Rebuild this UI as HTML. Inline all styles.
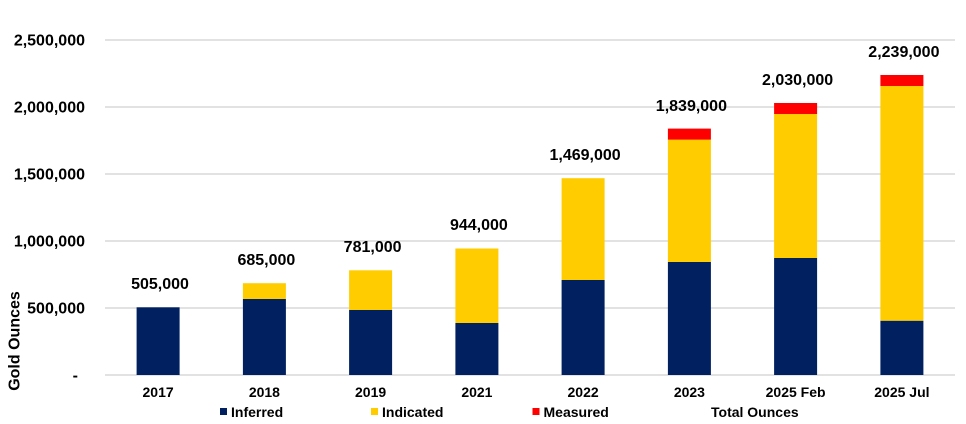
<!DOCTYPE html>
<html><head><meta charset="utf-8"><style>
html,body{margin:0;padding:0;background:#fff;}
svg{display:block;}
text{font-family:"Liberation Sans",Arial,sans-serif;font-weight:bold;fill:#000;}
</style></head><body>
<svg width="966" height="424" viewBox="0 0 966 424" xmlns="http://www.w3.org/2000/svg">
<g stroke="#d9d9d9" stroke-width="1.5">
<line x1="105" x2="955" y1="40" y2="40"/>
<line x1="105" x2="955" y1="107" y2="107"/>
<line x1="105" x2="955" y1="174" y2="174"/>
<line x1="105" x2="955" y1="241" y2="241"/>
<line x1="105" x2="955" y1="308" y2="308"/>
<line x1="105" x2="955" y1="375" y2="375"/>
</g>
<g font-size="16" text-anchor="end">
<text x="85" y="45.7">2,500,000</text>
<text x="85" y="112.7">2,000,000</text>
<text x="85" y="179.7">1,500,000</text>
<text x="85" y="246.7">1,000,000</text>
<text x="85" y="313.7">500,000</text>
<text x="78" y="380.7">-</text>
</g>
<text font-size="16" text-anchor="middle" transform="translate(19.5,341) rotate(-90)">Gold Ounces</text>
<g id="bars"></g>
<!-- bars: y = 375 - v*0.134 (v in thousands) -->
<!-- 2017 -->
<rect x="136.6" y="307.3" width="43" height="67.7" fill="#002060"/>
<!-- 2018 -->
<rect x="242.9" y="299.0" width="43" height="76.0" fill="#002060"/>
<rect x="242.9" y="283.2" width="43" height="15.8" fill="#FFCC00"/>
<!-- 2019 -->
<rect x="349.1" y="310.0" width="43" height="65.0" fill="#002060"/>
<rect x="349.1" y="270.3" width="43" height="39.7" fill="#FFCC00"/>
<!-- 2021 -->
<rect x="455.4" y="323.0" width="43" height="52.0" fill="#002060"/>
<rect x="455.4" y="248.5" width="43" height="74.5" fill="#FFCC00"/>
<!-- 2022 -->
<rect x="561.6" y="280.0" width="43" height="95.0" fill="#002060"/>
<rect x="561.6" y="178.2" width="43" height="101.8" fill="#FFCC00"/>
<!-- 2023 -->
<rect x="667.9" y="262.0" width="43" height="113.0" fill="#002060"/>
<rect x="667.9" y="139.5" width="43" height="122.5" fill="#FFCC00"/>
<rect x="667.9" y="128.6" width="43" height="11.0" fill="#FF0000"/>
<!-- 2025 Feb -->
<rect x="774.1" y="258.0" width="43" height="117.0" fill="#002060"/>
<rect x="774.1" y="114.0" width="43" height="144.0" fill="#FFCC00"/>
<rect x="774.1" y="103.0" width="43" height="11.0" fill="#FF0000"/>
<!-- 2025 Jul -->
<rect x="880.4" y="320.7" width="43" height="54.3" fill="#002060"/>
<rect x="880.4" y="86.0" width="43" height="234.7" fill="#FFCC00"/>
<rect x="880.4" y="75.0" width="43" height="11.0" fill="#FF0000"/>
<g font-size="16" text-anchor="middle">
<text x="160" y="289">505,000</text>
<text x="266.4" y="265">685,000</text>
<text x="372.6" y="252">781,000</text>
<text x="478.9" y="230">944,000</text>
<text x="585.1" y="160">1,469,000</text>
<text x="691.4" y="111">1,839,000</text>
<text x="797.6" y="85">2,030,000</text>
<text x="903.9" y="57">2,239,000</text>
</g>
<g font-size="14" text-anchor="middle">
<text x="158.1" y="397">2017</text>
<text x="264.4" y="397">2018</text>
<text x="370.6" y="397">2019</text>
<text x="476.9" y="397">2021</text>
<text x="583.1" y="397">2022</text>
<text x="689.4" y="397">2023</text>
<text x="795.6" y="397">2025 Feb</text>
<text x="901.9" y="397">2025 Jul</text>
</g>
<rect x="220" y="408" width="7" height="7" fill="#002060"/>
<text x="231" y="417" font-size="14">Inferred</text>
<rect x="371" y="408" width="7" height="7" fill="#FFCC00"/>
<text x="382" y="417" font-size="14">Indicated</text>
<rect x="532.5" y="408" width="7" height="7" fill="#FF0000"/>
<text x="543.5" y="417" font-size="14">Measured</text>
<text x="711" y="417" font-size="14">Total Ounces</text>
</svg>
</body></html>
